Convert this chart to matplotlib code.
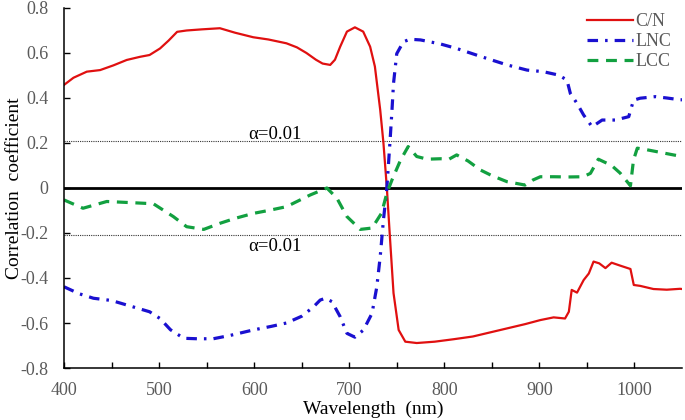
import matplotlib
matplotlib.use("Agg")
import matplotlib.pyplot as plt

plt.rcParams['font.family'] = ['Liberation Serif', 'DejaVu Serif']

# ---- data ----
wl_cn = [400, 410, 424, 438, 452, 466, 480, 490, 501, 510, 519, 529, 545, 564, 580,
         599, 615, 634, 645, 655, 665, 672, 680, 685, 690.5, 697.6, 706, 714.7, 722,
         727, 732.6, 736, 739.6, 743, 746.6, 752, 759, 771, 790, 810, 830, 850, 870,
         885, 901, 915, 927, 931, 934, 939.6, 946.6, 952, 957, 963, 969.5, 976, 985,
         995.8, 999.3, 1006, 1020, 1034, 1048, 1050]
cn = [0.458, 0.49, 0.517, 0.524, 0.545, 0.569, 0.583, 0.591, 0.62, 0.655, 0.694,
      0.70, 0.705, 0.71, 0.69, 0.67, 0.66, 0.643, 0.625, 0.60, 0.57, 0.553, 0.547,
      0.57, 0.628, 0.695, 0.714, 0.695, 0.628, 0.54, 0.347, 0.20, 0.0, -0.23,
      -0.467, -0.631, -0.683, -0.689, -0.683, -0.672, -0.66, -0.64, -0.62, -0.605,
      -0.587, -0.575, -0.58, -0.55, -0.453, -0.465, -0.409, -0.38, -0.327, -0.335,
      -0.356, -0.332, -0.345, -0.36, -0.431, -0.435, -0.449, -0.452, -0.448, -0.449]

wl_lnc = [400, 416, 431, 450, 470, 490, 501, 512, 526, 540, 557, 575, 599, 618, 634,
          650, 662, 669.5, 675, 681.8, 690.5, 697.6, 706, 715, 724, 729, 732.6, 736,
          739.6, 743, 745, 746.6, 750, 757, 764, 775, 796, 813, 838, 866, 887, 904,
          920, 929, 932.6, 939.6, 946.6, 955.5, 966, 980, 994, 999, 1006, 1022, 1034,
          1048, 1050]
lnc = [-0.439, -0.47, -0.49, -0.50, -0.525, -0.55, -0.58, -0.63, -0.668, -0.67,
       -0.67, -0.655, -0.631, -0.615, -0.60, -0.57, -0.53, -0.498, -0.49, -0.505,
       -0.572, -0.646, -0.663, -0.631, -0.557, -0.44, -0.305, -0.142, 0.0, 0.213,
       0.347, 0.465, 0.597, 0.65, 0.661, 0.658, 0.64, 0.62, 0.585, 0.547, 0.524,
       0.517, 0.502, 0.48, 0.42, 0.376, 0.324, 0.272, 0.302, 0.302, 0.317, 0.39,
       0.399, 0.406, 0.40, 0.392, 0.392]

wl_lcc = [400, 420, 445, 470, 494, 515, 529, 547, 564, 580, 599, 615, 634, 659, 676.5,
          687, 697.6, 711.6, 724, 734, 739.6, 745, 754, 762, 771, 782, 796, 805, 813,
          825, 838, 850, 866, 885, 893, 901, 915, 930.5, 946, 953.7, 962, 971, 976,
          985, 995.8, 999, 1003, 1013, 1041, 1050]
lcc = [-0.053, -0.09, -0.06, -0.065, -0.07, -0.127, -0.172, -0.184, -0.157, -0.135,
       -0.113, -0.10, -0.083, -0.031, 0.0, -0.045, -0.127, -0.184, -0.178, -0.112,
       -0.023, 0.036, 0.124, 0.184, 0.14, 0.128, 0.13, 0.128, 0.147, 0.12, 0.08,
       0.055, 0.028, 0.013, 0.035, 0.05, 0.05, 0.049, 0.05, 0.065, 0.128, 0.11, 0.10,
       0.066, 0.01, 0.124, 0.177, 0.17, 0.147, 0.14]

alpha_level = 0.208
tick_gray = "#5a5a5a"

fig = plt.figure(figsize=(6.85, 4.2), dpi=100)
ax = fig.add_axes([0.0934, 0.1238, 0.9022, 0.8572])

ax.plot(wl_cn, cn, color="#e01010", lw=1.6, label="C/N")
ax.plot(wl_lnc, lnc, color="#1a10d0", lw=2.3, dashes=(3.3, 2.2, 0.8, 2.2),
        dash_capstyle="butt", label="LNC")
ax.plot(wl_lcc, lcc, color="#12a040", lw=2.3, dashes=(3.4, 2.4),
        dash_capstyle="butt", label="LCC")

# zero line and significance thresholds
ax.axhline(0, color="black", lw=2.0, zorder=1)
ax.axhline(alpha_level, color="#333333", lw=0.8, ls=(0, (1, 1)), zorder=1)
ax.axhline(-alpha_level, color="#333333", lw=0.8, ls=(0, (1, 1)), zorder=1)
ax.text(622, 0.236, "α=0.01", ha="center", va="center", fontsize=13.5, color="black")
ax.text(622, -0.262, "α=0.01", ha="center", va="center", fontsize=13.5, color="black")

ax.set_xlim(400, 1050)
ax.set_ylim(-0.8, 0.8)
ax.set_xticks([400, 500, 600, 700, 800, 900, 1000])
ax.set_xticks(range(450, 1050, 100), minor=True)
ax.set_yticks([-0.8, -0.6, -0.4, -0.2, 0, 0.2, 0.4, 0.6, 0.8])
ax.set_yticklabels(["-0.8", "-0.6", "-0.4", "-0.2", "0", "0.2", "0.4", "0.6", "0.8"])
ax.tick_params(axis="both", which="both", direction="in", labelsize=13,
               labelcolor=tick_gray, length=4, width=1)
ax.tick_params(axis="x", pad=10)
ax.tick_params(axis="y", pad=11)

for s in ["top", "right"]:
    ax.spines[s].set_visible(False)
for s in ["left", "bottom"]:
    ax.spines[s].set_linewidth(1.1)

ax.set_xlabel("Wavelength  (nm)", fontsize=14, labelpad=1)
ax.set_ylabel("Correlation  coefficient", fontsize=14, labelpad=-2)

leg = ax.legend(loc="upper right", bbox_to_anchor=(1.0, 1.015), frameon=False,
                fontsize=13, handlelength=2.6, handletextpad=0.1,
                labelspacing=0.15, borderaxespad=0.2)
for t in leg.get_texts():
    t.set_color(tick_gray)

fig.savefig("out.png", dpi=100)
